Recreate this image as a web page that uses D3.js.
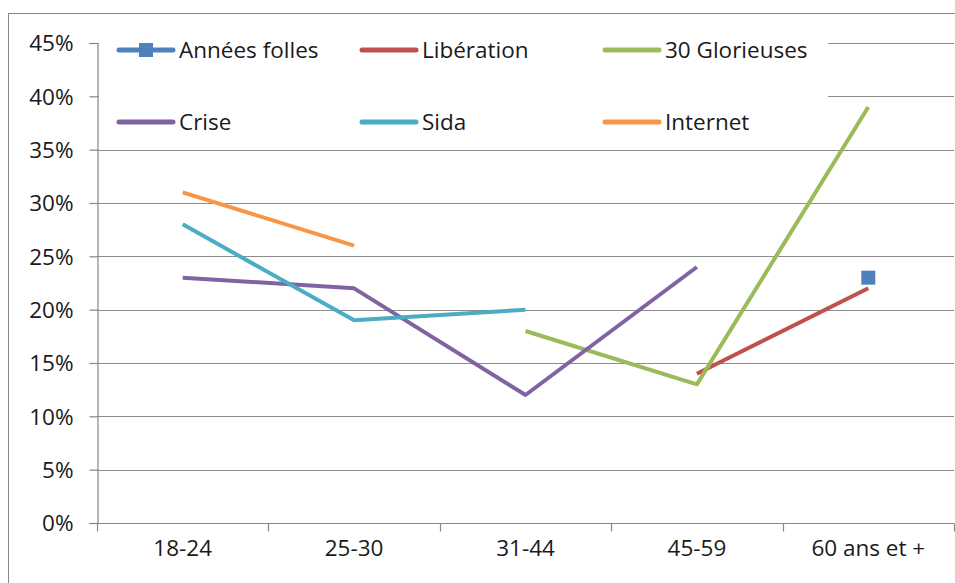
<!DOCTYPE html>
<html>
<head>
<meta charset="utf-8">
<script src="https://cdn.jsdelivr.net/npm/d3@7"></script>
<style>
  body { margin: 0; background: #fff; }
  svg { display: block; font-family: "Open Sans", sans-serif; }
</style>
</head>
<body>
<svg width="955" height="583"></svg>
<script>
const width = 955,
  height = 583;

const ageGroups = ["18-24", "25-30", "31-44", "45-59", "60 ans et +"];
const yTicks = [0, 0.05, 0.1, 0.15, 0.2, 0.25, 0.3, 0.35, 0.4, 0.45];

// null = no value for that age group
const anneesFolles = [null, null, null, null, 0.23];
const liberation = [null, null, null, 0.14, 0.22];
const glorieuses = [null, null, 0.18, 0.13, 0.39];
const crise = [0.23, 0.22, 0.12, 0.24, null];
const sida = [0.28, 0.19, 0.2, null, null];
const internet = [0.31, 0.26, null, null, null];

const seriesNames = ["Années folles", "Libération", "30 Glorieuses", "Crise", "Sida", "Internet"];
const seriesColors = ["#4f81bd", "#c0504d", "#9bbb59", "#8064a2", "#4bacc6", "#f79646"];

const fontSize = "22.5px";

const series = [anneesFolles, liberation, glorieuses, crise, sida, internet].map((values, i) => ({
  name: seriesNames[i],
  color: seriesColors[i],
  values: values.map((v, j) => ({ group: ageGroups[j], value: v }))
}));

const svg = d3.select("svg");

// outer frame of the chart area
svg.append("rect")
  .attr("x", 8.5)
  .attr("y", 13.5)
  .attr("width", 960)
  .attr("height", 600)
  .attr("fill", "none")
  .attr("stroke", "#868686");

const x = d3.scaleBand().domain(ageGroups).range([97, 954]).paddingInner(0).paddingOuter(0);
const y = d3.scaleLinear().domain([0, 0.45]).range([523, 43]);

// gridlines
svg.append("g")
  .selectAll("line")
  .data(yTicks.filter(t => t > 0))
  .enter()
  .append("line")
  .attr("x1", 97)
  .attr("x2", 954)
  .attr("y1", d => Math.round(y(d)) + 0.5)
  .attr("y2", d => Math.round(y(d)) + 0.5)
  .attr("stroke", "#8c8c8c")
  .attr("stroke-width", 1.2);

// legend box hides the gridlines behind it
const legendRows = [[0, 1, 2], [3, 4, 5]];
const legendX = [119, 362, 605];
const legendY = [50, 122];

svg.append("rect")
  .attr("x", 99)
  .attr("y", 28)
  .attr("width", 729)
  .attr("height", 112)
  .attr("fill", "#fff");

// axes
const yAxis = svg.append("g")
  .attr("transform", "translate(97.5,0)")
  .call(d3.axisLeft(y).tickValues(yTicks).tickFormat(d3.format(".0%")).tickSize(8).tickPadding(16));

const xAxis = svg.append("g")
  .attr("transform", "translate(0,523.5)")
  .call(d3.axisBottom(x).tickSize(0).tickPadding(17));

xAxis.selectAll(".tick-mark")
  .data(d3.range(ageGroups.length + 1))
  .enter()
  .append("line")
  .attr("x1", i => Math.round(97 + i * x.bandwidth()) + 0.5)
  .attr("x2", i => Math.round(97 + i * x.bandwidth()) + 0.5)
  .attr("y1", 0)
  .attr("y2", 8)
  .attr("stroke", "#868686")
  .attr("stroke-width", 1.2);

[yAxis, xAxis].forEach(a => {
  a.selectAll(".domain").attr("stroke", "#868686").attr("stroke-width", 1.2);
  a.selectAll(".tick line").attr("stroke", "#868686").attr("stroke-width", 1.2);
  a.selectAll("text")
    .attr("fill", "#1a1a1a")
    .style("font-family", "'Open Sans', sans-serif")
    .style("font-size", fontSize);
});
yAxis.selectAll("text").attr("dy", "0.35em");
xAxis.select(".domain").attr("d", "M97,0H954");

// lines
const line = d3.line()
  .defined(d => d.value !== null)
  .x(d => x(d.group) + x.bandwidth() / 2)
  .y(d => y(d.value));

svg.append("g")
  .selectAll("path")
  .data(series)
  .enter()
  .append("path")
  .attr("d", d => line(d.values))
  .attr("fill", "none")
  .attr("stroke", d => d.color)
  .attr("stroke-width", 4)
  .attr("stroke-linejoin", "round");

// Années folles only has a single point, drawn as a square marker
svg.append("g")
  .selectAll("rect")
  .data(series[0].values.filter(d => d.value !== null))
  .enter()
  .append("rect")
  .attr("x", d => x(d.group) + x.bandwidth() / 2 - 7)
  .attr("y", d => y(d.value) - 7)
  .attr("width", 14)
  .attr("height", 14)
  .attr("fill", series[0].color);

// legend
legendRows.forEach((row, r) => {
  row.forEach((s, c) => {
    const g = svg.append("g").attr("transform", `translate(${legendX[c]},${legendY[r]})`);
    g.append("line")
      .attr("x1", 0)
      .attr("x2", 54)
      .attr("stroke", series[s].color)
      .attr("stroke-width", 5)
      .attr("stroke-linecap", "round");
    if (s === 0) {
      g.append("rect")
        .attr("x", 20)
        .attr("y", -7)
        .attr("width", 14)
        .attr("height", 14)
        .attr("fill", series[s].color);
    }
    g.append("text")
      .attr("x", 60)
      .attr("dy", "0.35em")
      .attr("fill", "#1a1a1a")
      .style("font-size", fontSize)
      .text(series[s].name);
  });
});
</script>
</body>
</html>
